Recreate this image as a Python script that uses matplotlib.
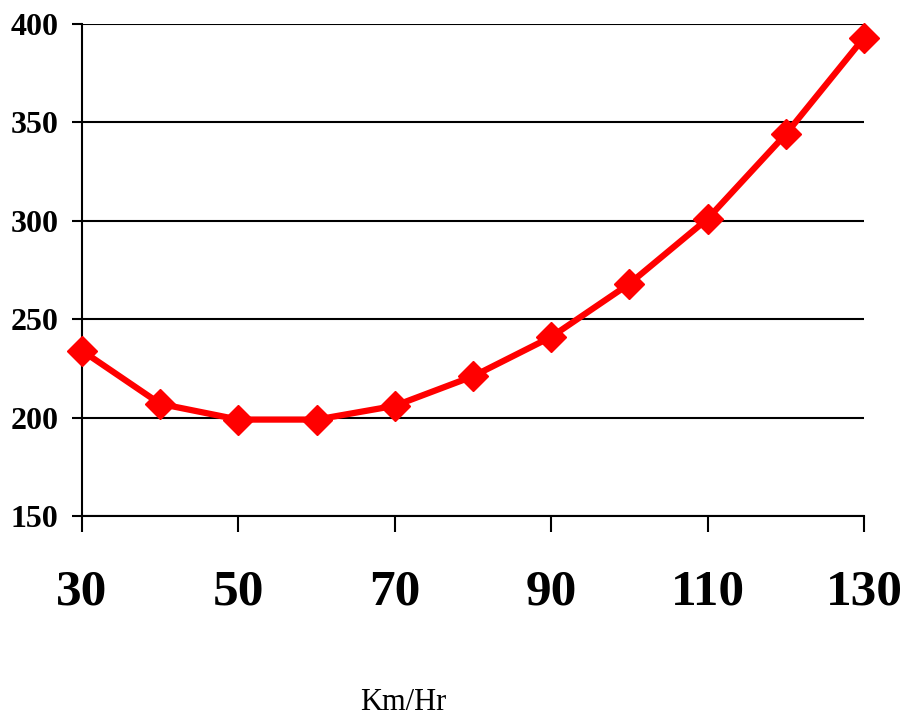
import matplotlib.pyplot as plt

speed = [30, 40, 50, 60, 70, 80, 90, 100, 110, 120, 130]
value = [234, 207, 199, 199, 206, 221, 241, 268, 301, 344, 393]
x_ticks = [30, 50, 70, 90, 110, 130]
y_ticks = [150, 200, 250, 300, 350, 400]

plt.rcParams['font.family'] = 'Liberation Serif'

fig = plt.figure(figsize=(9.04, 7.16), dpi=100)
ax = fig.add_axes([0.0907, 0.2793, 0.865, 0.6872])

ax.plot(speed, value, color='#ff0000', lw=4.5, marker='D', ms=15, zorder=3, clip_on=False)

ax.set_xlim(30, 130)
ax.set_ylim(150, 400)
ax.set_xticks(x_ticks)
ax.set_yticks(y_ticks)
ax.grid(axis='y', color='black', lw=1.5)
ax.set_axisbelow(True)

for s in ['top', 'right']:
    ax.spines[s].set_visible(False)
for s in ['left', 'bottom']:
    ax.spines[s].set_linewidth(1.5)

ax.tick_params(axis='x', length=11.5, width=1.5, pad=27, labelsize=37)
ax.tick_params(axis='y', length=7, width=1.5, pad=10, labelsize=23)
for lab in ax.get_xticklabels() + ax.get_yticklabels():
    lab.set_fontweight('bold')

fig.text(0.446, 0.008, 'Km/Hr', ha='center', va='baseline', fontsize=22)

fig.savefig('out.png', dpi=100)
